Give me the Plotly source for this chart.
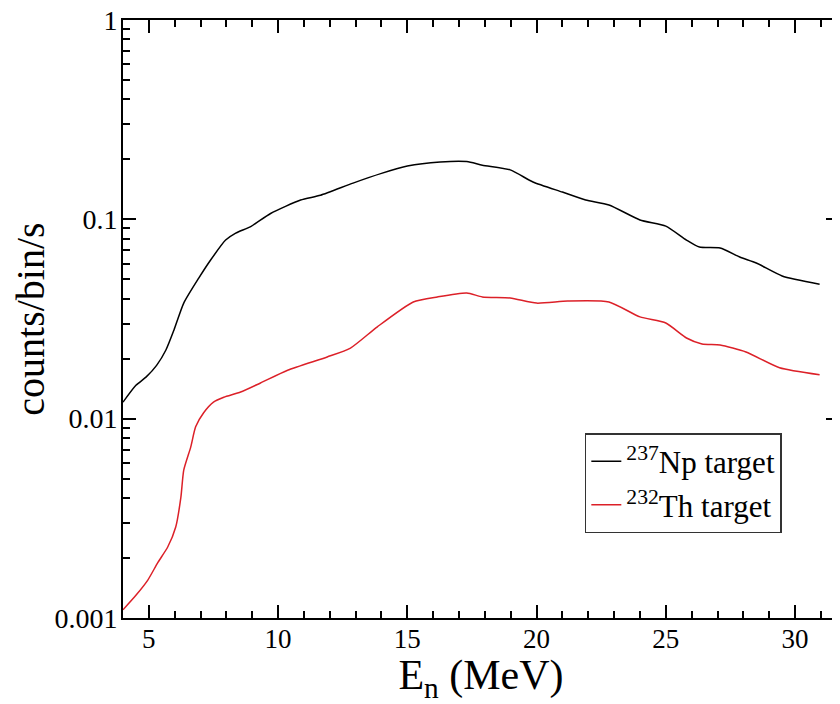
import plotly.graph_objects as go

# Data
energy_np = [4.0, 4.5, 4.9, 5.3, 5.66, 5.97, 6.35, 6.93, 7.39, 7.97, 8.36, 8.94, 9.71,
             10.87, 11.64, 12.9, 14.0, 15.0, 16.27, 17.3, 17.9, 18.98, 19.86, 21.0,
             21.9, 22.8, 24.0, 25.0, 25.8, 26.3, 27.1, 27.86, 28.5, 29.5, 30.95]
counts_np = [0.0121, 0.0147, 0.0162, 0.0185, 0.0221, 0.0278, 0.038, 0.0507, 0.0625,
             0.0787, 0.0853, 0.092, 0.107, 0.125, 0.132, 0.152, 0.170, 0.185, 0.194,
             0.195, 0.187, 0.177, 0.154, 0.137, 0.125, 0.118, 0.0993, 0.0925, 0.0787,
             0.0726, 0.0718, 0.0647, 0.0604, 0.052, 0.0473]

energy_th = [4.0, 4.5, 4.96, 5.35, 5.73, 6.04, 6.24, 6.35, 6.62, 6.81, 7.12, 7.5, 7.9,
             8.55, 9.32, 10.37, 11.9, 12.8, 13.84, 15.23, 16.16, 17.3, 17.9, 18.98,
             20.0, 21.2, 22.8, 24.0, 25.0, 25.8, 26.4, 27.1, 28.1, 29.4, 30.95]
counts_th = [0.0011, 0.0013, 0.00155, 0.0019, 0.00227, 0.00286, 0.00404, 0.00552,
             0.0072, 0.0091, 0.0107, 0.0121, 0.0128, 0.0136, 0.0151, 0.0175, 0.0204,
             0.0226, 0.0289, 0.0385, 0.0408, 0.0427, 0.0408, 0.0403, 0.038, 0.0389,
             0.0385, 0.0324, 0.0302, 0.0254, 0.0237, 0.0234, 0.0216, 0.0180, 0.0166]

x_ticks = [5, 10, 15, 20, 25, 30]
y_ticks = [0.001, 0.01, 0.1, 1]
y_tick_labels = ["0.001", "0.01", "0.1", "1"]
y_minor = [m * 10 ** e for e in (-3, -2, -1) for m in range(2, 10)]

FONT = "Liberation Serif, Times New Roman, serif"

fig = go.Figure()
fig.add_trace(go.Scatter(x=energy_np, y=counts_np, mode="lines",
                         name="<sup>237</sup>Np target",
                         line=dict(color="black", width=1.5, shape="spline", smoothing=0.6)))
fig.add_trace(go.Scatter(x=energy_th, y=counts_th, mode="lines",
                         name="<sup>232</sup>Th target",
                         line=dict(color="#dc2028", width=1.5, shape="spline", smoothing=0.6)))

# page body has an 8px margin, so the figure is sized/positioned to compensate
fig.update_layout(
    width=832, height=696,
    paper_bgcolor="white", plot_bgcolor="white",
    margin=dict(l=115, r=1, t=12, b=86, autoexpand=False),
    font=dict(family=FONT, color="black"),
    showlegend=True,
    legend=dict(x=0.645, y=0.309, xanchor="left", yanchor="top",
                bgcolor="white", bordercolor="#333333", borderwidth=1.5,
                font=dict(family=FONT, size=31, color="black"),
                itemwidth=30, tracegroupgap=0),
)

fig.update_xaxes(
    range=[4, 31.7], tickvals=x_ticks, ticktext=[str(v) for v in x_ticks],
    ticks="inside", ticklen=13, tickwidth=1.5, tickcolor="black",
    showline=True, linecolor="black", linewidth=1.8, mirror="ticks",
    showgrid=False, zeroline=False, automargin=False,
    tickfont=dict(family=FONT, size=27), ticklabelstandoff=-4,
    ticklabeloverflow="allow",
    minor=dict(ticks="inside", ticklen=7, tickwidth=1.5, tickcolor="black",
               dtick=1, tick0=0, showgrid=False),
    title=dict(text="E<sub>n</sub> (MeV)", font=dict(family=FONT, size=42), standoff=0),
)
fig.update_yaxes(
    type="log", range=[-3, 0], tickvals=y_ticks, ticktext=y_tick_labels,
    ticks="inside", ticklen=13, tickwidth=1.5, tickcolor="black",
    showline=True, linecolor="black", linewidth=1.8, mirror="ticks",
    showgrid=False, zeroline=False, automargin=False,
    tickfont=dict(family=FONT, size=28), ticklabelstandoff=-2,
    ticklabeloverflow="allow",
    minor=dict(ticks="inside", ticklen=7, tickwidth=1.5, tickcolor="black",
               tickvals=y_minor, showgrid=False),
    title=dict(text="counts/bin/s", font=dict(family=FONT, size=40), standoff=4),
)

fig.write_html("out.html")
